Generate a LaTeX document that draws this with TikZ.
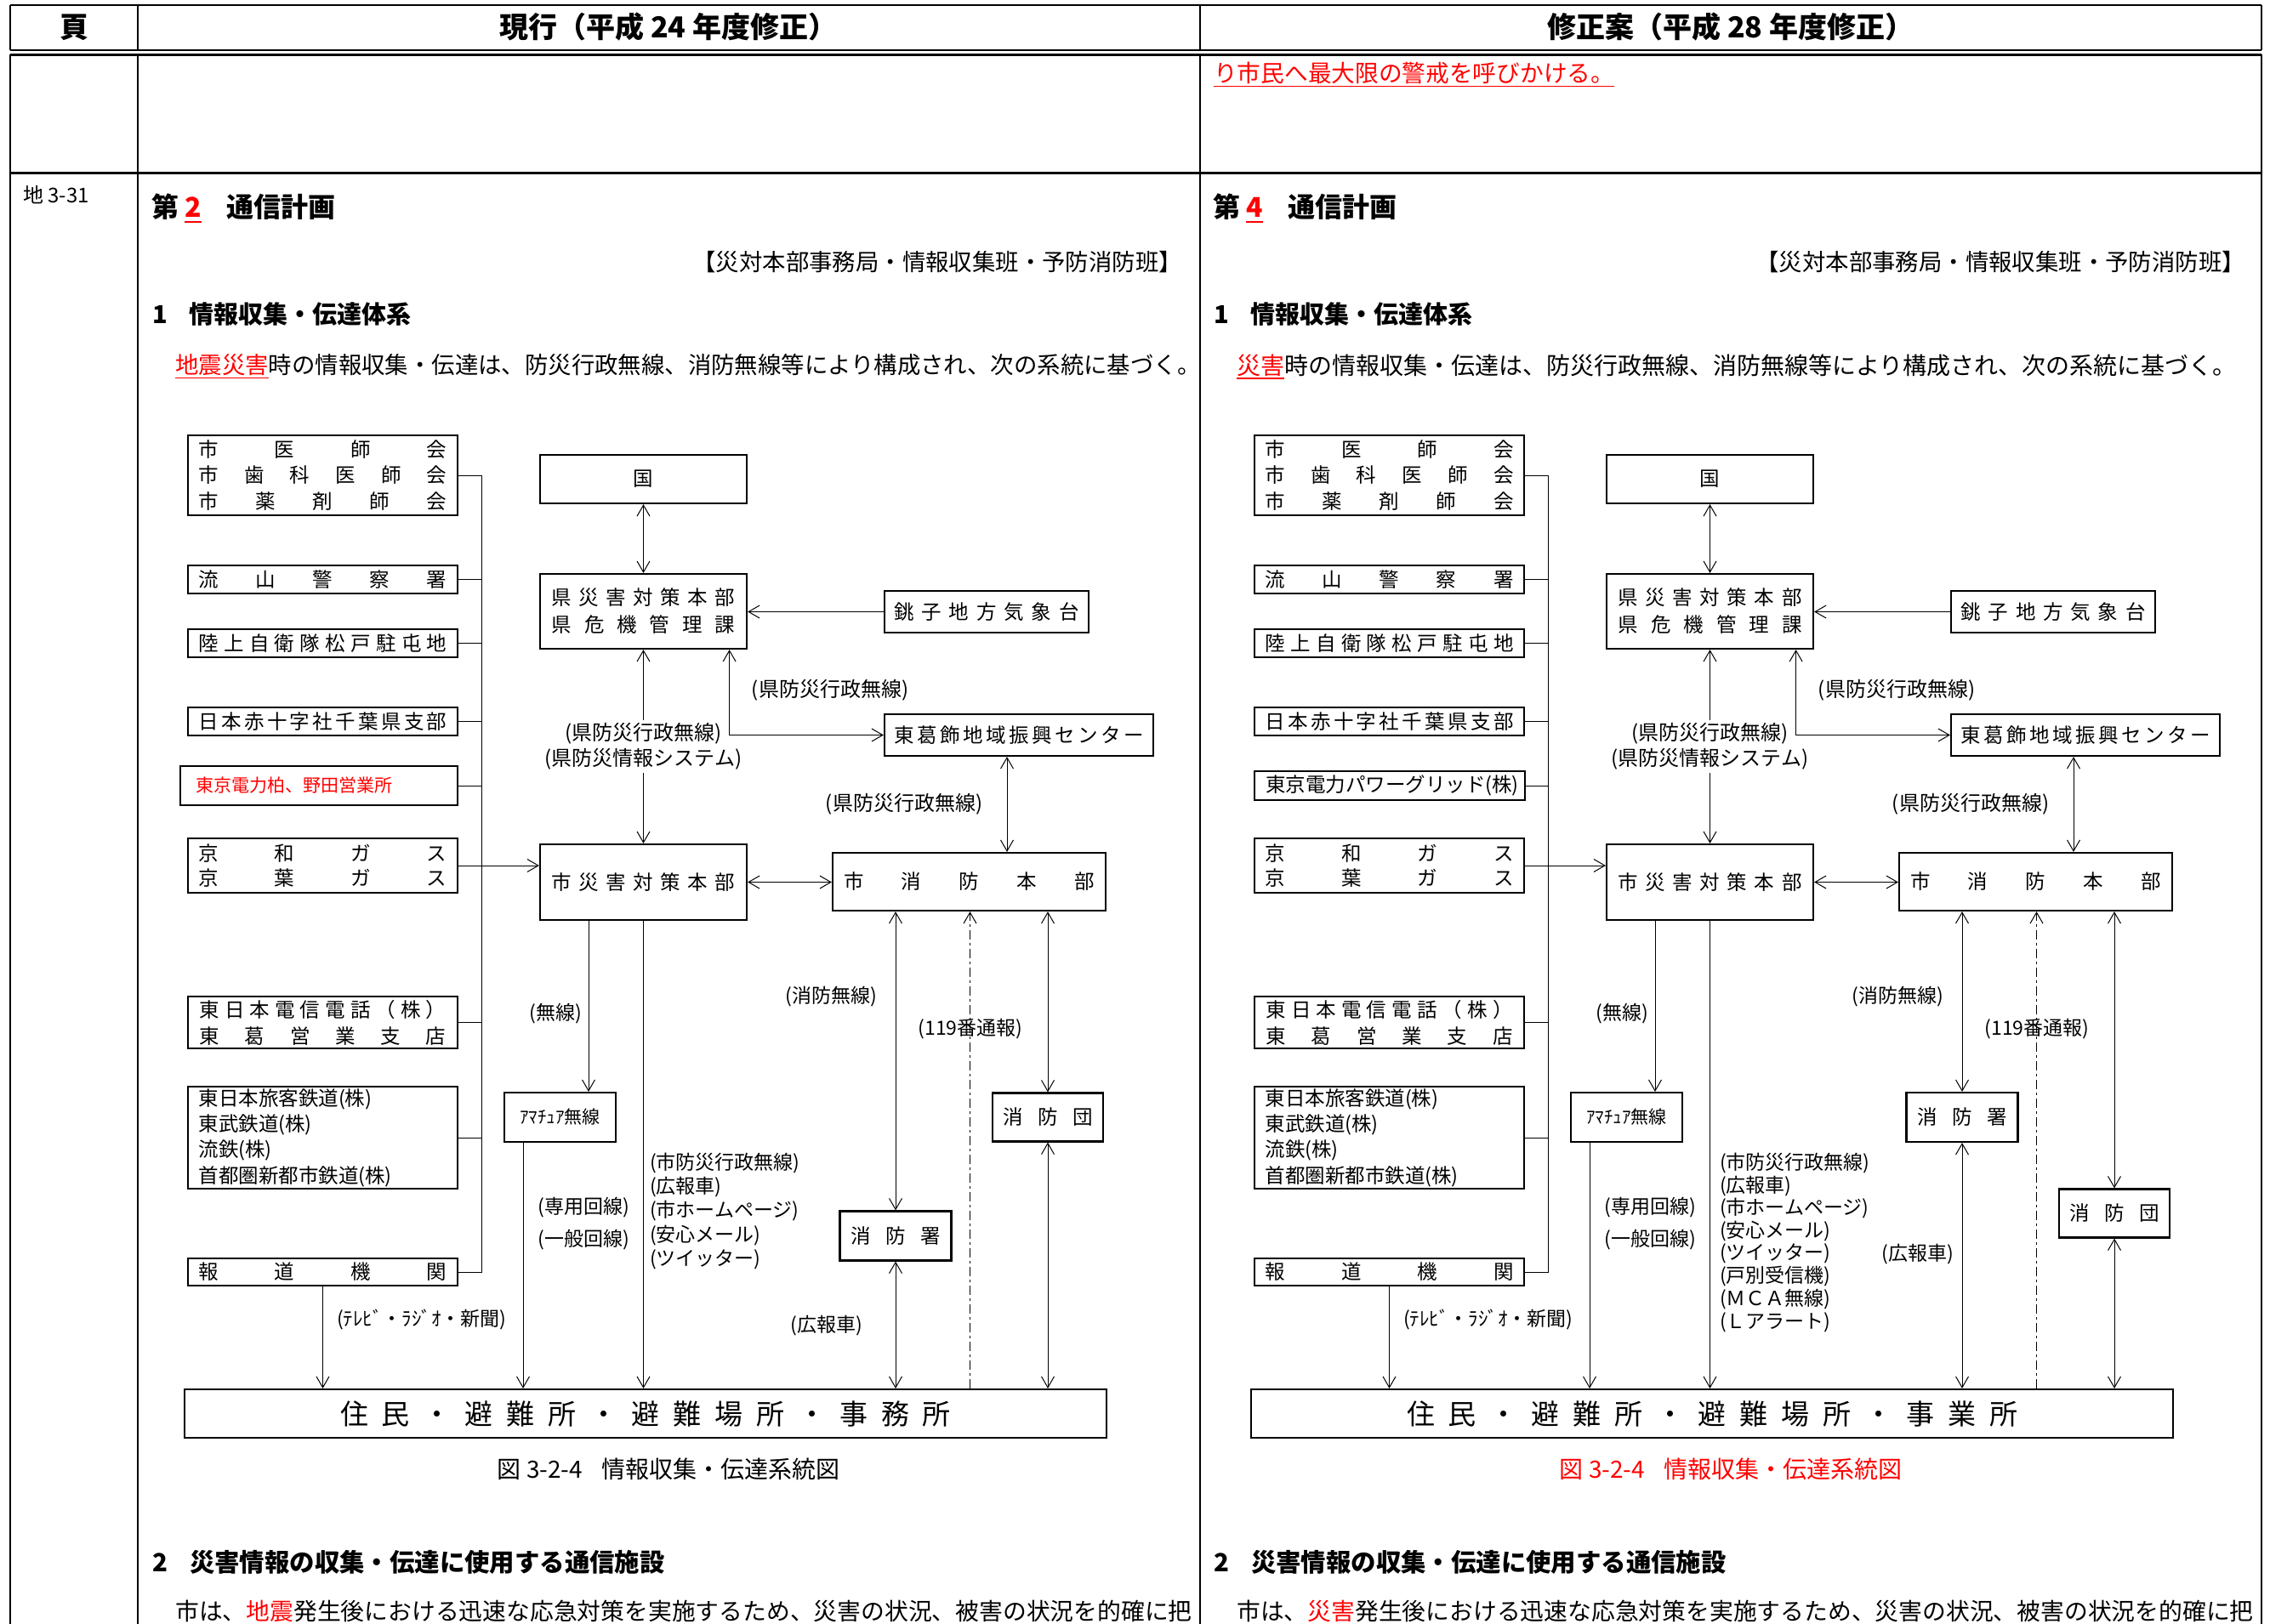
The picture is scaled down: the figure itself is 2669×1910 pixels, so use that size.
\documentclass[tikz,border=0pt]{standalone}
\usepackage{fontspec}
\setmainfont{Noto Sans CJK JP}
\usetikzlibrary{arrows.meta}

\newcommand\fsz[2]{\fontsize{#1pt}{#2pt}\selectfont}
\newsavebox\ulbox
\newcommand\uln[1]{\sbox\ulbox{#1}\rlap{\rule[-0.2em]{\wd\ulbox}{1.6pt}}\usebox\ulbox}
\def\sprend{}
\def\sprfirst#1{\ifx#1\sprend\else#1\expandafter\sprnext\fi}
\def\sprnext#1{\ifx#1\sprend\else\hfill#1\expandafter\sprnext\fi}
\newcommand\spreadto[2]{\hbox to #1pt{\sprfirst#2\sprend}}

\tikzset{
  bx/.style={draw, line width=2.2pt, inner sep=0pt, align=left, font=\fsz{23.5}{30}},
  conn/.style={line width=1pt},
  lab/.style={inner sep=0pt, font=\fsz{23}{30}},
  klab/.style={inner sep=0pt, font=\fsz{24}{30}},
  tline/.style={line width=2.6pt},
  body/.style={inner sep=0pt, anchor=west, font=\fsz{27.4}{30}},
  >={Straight Barb[length=13pt,width=15pt]},
  dashdot/.style={line width=1pt, dash pattern=on 11pt off 4pt on 3pt off 4pt},
}

% #1 text of the bottom box, #2 y of 消防署, #3 y of 消防団
\newcommand\commonpart[3]{%
  \node[bx, minimum width=317pt, minimum height=94pt, font=\fsz{23.5}{30.5}] (L1) at (379.5,559)
    {\spreadto{292}{市医師会}\\\spreadto{292}{市歯科医師会}\\\spreadto{292}{市薬剤師会}};
  \node[bx, minimum width=317pt, minimum height=33pt] (L2) at (379.5,681.5) {\spreadto{292}{流山警察署}};
  \node[bx, minimum width=317pt, minimum height=33pt] (L3) at (379.5,756.5) {\spreadto{292}{陸上自衛隊松戸駐屯地}};
  \node[bx, minimum width=317pt, minimum height=33pt] (L4) at (379.5,848.5) {\spreadto{292}{日本赤十字社千葉県支部}};
  \node[bx, minimum width=317pt, minimum height=64pt, font=\fsz{23.5}{29}] (L6) at (379.5,1018)
    {\spreadto{292}{京和ガス}\\\spreadto{292}{京葉ガス}};
  \node[bx, minimum width=317pt, minimum height=61pt, font=\fsz{23.5}{31}] (L7) at (379.5,1202.5)
    {\spreadto{290}{東日本電信電話（株）}\\\spreadto{290}{東葛営業支店}};
  \node[bx, minimum width=317pt, minimum height=120pt, font=\fsz{23.5}{30.3}] (L8) at (379.5,1338)
    {\hbox to 292pt{東日本旅客鉄道(株)\hfill}\\\hbox to 292pt{東武鉄道(株)\hfill}\\\hbox to 292pt{流鉄(株)\hfill}\\\hbox to 292pt{首都圏新都市鉄道(株)\hfill}};
  \node[bx, minimum width=317pt, minimum height=32pt] (L9) at (379.5,1496) {\spreadto{292}{報道機関}};
  \node[bx, minimum width=243pt, minimum height=57pt] (kuni) at (756.5,563.5) {国};
  \node[bx, minimum width=243pt, minimum height=88pt, font=\fsz{23.5}{32}] (ken) at (756.5,719)
    {\spreadto{216}{県災害対策本部}\\\spreadto{216}{県危機管理課}};
  \node[bx, minimum width=243pt, minimum height=89pt] (shi) at (756.5,1037.5) {\spreadto{216}{市災害対策本部}};
  \node[bx, minimum width=240pt, minimum height=49pt] (choshi) at (1160,719.5) {\spreadto{217}{銚子地方気象台}};
  \node[bx, minimum width=316pt, minimum height=49pt] (toka) at (1198,864.5) {\spreadto{293}{東葛飾地域振興センター}};
  \node[bx, minimum width=321pt, minimum height=68pt] (fhq) at (1139.5,1037) {\spreadto{295}{市消防本部}};
  \node[bx, minimum width=131pt, minimum height=58pt, font=\fsz{21}{24}] (ama) at (658.5,1314) {ｱﾏﾁｭｱ無線};
  \node[bx, minimum width=131pt, minimum height=58pt] (sho) at (1053,#2) {\spreadto{105}{消防署}};
  \node[bx, minimum width=130pt, minimum height=57pt] (dan) at (1232,#3) {\spreadto{105}{消防団}};
  \node[bx, minimum width=1084pt, minimum height=57pt, font=\fsz{33}{36}] (jumin) at (759,1662.5) {\spreadto{718}{#1}};
  % bus
  \coordinate (bustop) at (566,559);
  \draw[conn] (L1.east) -- (bustop) -- (bustop |- L9.east) -- (L9.east);
  \foreach \b in {L2,L3,L4,L7,L8} \draw[conn] (\b.east) -- (\b.east -| bustop);
  \draw[conn,->] (L6.east) -- (L6.east -| shi.west);
  % centre
  \draw[conn,<->] (kuni.south) -- (ken.north);
  \draw[conn,<->] (ken.south) -- node[klab, fill=white, align=center, inner ysep=4pt] (kenlab)
     {(県防災行政無線)\\(県防災情報システム)} (shi.north);
  \draw[conn,->] (choshi.west) -- (choshi.west -| ken.east);
  \draw[conn,<->] ([xshift=-21.5pt]ken.south east) |- (toka.west);
  \draw[conn,<->] ([xshift=-14pt]toka.south) -- ([xshift=-14pt]toka.south |- fhq.north);
  \draw[conn,<->] (shi.east) -- (shi.east -| fhq.west);
  \draw[conn,->] ([xshift=-64.5pt]shi.south) -- ([xshift=-64.5pt]shi.south |- ama.north);
  \draw[conn,->] ([xshift=-43.5pt]ama.south) -- ([xshift=-43.5pt]ama.south |- jumin.north);
  \draw[conn,->] (shi.south) -- (shi.south |- jumin.north);
  \draw[conn,->] (L9.south) -- (L9.south |- jumin.north);
  \draw[conn,<->] (sho.north |- fhq.south) -- (sho.north);
  \draw[conn,<->] (sho.south) -- (sho.south |- jumin.north);
  \draw[dashdot,->] ([xshift=1pt]fhq.south |- jumin.north) -- ([xshift=1pt]fhq.south);
  \draw[conn,<->] (dan.north |- fhq.south) -- (dan.north);
  \draw[conn,<->] (dan.south) -- (dan.south |- jumin.north);
  % labels
  \node[klab] (lbA) at (976,812) {(県防災行政無線)};
  \node[klab] (lbB) at (1063,946) {(県防災行政無線)};
  \node[lab] (lbC) at (653,1192) {(無線)};
  \node[lab] (lbD) at (686,1420) {(専用回線)};
  \node[lab] (lbE) at (686,1458) {(一般回線)};
  \node[lab, anchor=west] (lbF) at (396,1552) {(ﾃﾚﾋﾞ・ﾗｼﾞｵ・新聞)};
  \node[lab] (lbG) at (977,1172) {(消防無線)};
  \node[lab] (lbH) at (1141,1210) {(119番通報)};
}

\begin{document}
\begin{tikzpicture}[x=1pt,y=-1pt]
\useasboundingbox (0,0) rectangle (2669,1910);

% table
\draw[tline] (12,6) -- (2659,6);
\draw[tline] (12,59) -- (2659,59);
\draw[tline] (12,64.5) -- (2659,64.5);
\draw[tline] (12,203.5) -- (2659,203.5);
\foreach \x in {12,162,1411,2659} {
  \draw[tline] (\x,6) -- (\x,59);
  \draw[tline] (\x,64.5) -- (\x,1915);
}

% header
\node[inner sep=0pt, font=\fsz{34}{36}\bfseries] (h0) at (87,32) {頁};
\node[inner sep=0pt, font=\fsz{34}{36}\bfseries] (h1) at (786,32) {現行（平成 24 年度修正）};
\node[inner sep=0pt, font=\fsz{34}{36}\bfseries] (h2) at (2035,32) {修正案（平成 28 年度修正）};

% row 2
\node[body, font=\fsz{27.7}{30}] (r2) at (1427,88) {\textcolor{red}{\uln{り市民へ最大限の警戒を呼びかける。}}};

% row 3 left
\node[body, font=\fsz{24}{28}] (pg) at (27,229) {地 3-31};
\node[body, font=\fsz{32}{34}\bfseries] (tA) at (178,245) {第\hspace{7pt}\textcolor{red}{\uln{2}}\hspace{30pt}通信計画};
\node[body, anchor=east] (bA) at (1390,308) {【災対本部事務局・情報収集班・予防消防班】};
\node[body, font=\fsz{29}{32}\bfseries] (sA) at (179,369) {1\hspace{26pt}情報収集・伝達体系};
\node[body] (pA) at (206,431) {\textcolor{red}{\uln{地震災害}}時の情報収集・伝達は、防災行政無線、消防無線等により構成され、次の系統に基づく。};
\node[body, anchor=center, font=\fsz{28}{30}] (cA) at (786,1728) {図 3-2-4\hspace{22pt}情報収集・伝達系統図};
\node[body, font=\fsz{29.4}{32}\bfseries] (s2A) at (179,1837) {2\hspace{26pt}災害情報の収集・伝達に使用する通信施設};
\node[body, font=\fsz{27.8}{30}] (qA) at (206,1895) {市は、\textcolor{red}{地震}発生後における迅速な応急対策を実施するため、災害の状況、被害の状況を的確に把};

% row 3 right
\node[body, font=\fsz{32}{34}\bfseries] (tB) at (1426,245) {第\hspace{7pt}\textcolor{red}{\uln{4}}\hspace{30pt}通信計画};
\node[body, anchor=east] (bB) at (2640,308) {【災対本部事務局・情報収集班・予防消防班】};
\node[body, font=\fsz{29}{32}\bfseries] (sB) at (1427,369) {1\hspace{26pt}情報収集・伝達体系};
\node[body, font=\fsz{28}{30}] (pB) at (1454,431) {\textcolor{red}{\uln{災害}}時の情報収集・伝達は、防災行政無線、消防無線等により構成され、次の系統に基づく。};
\node[body, anchor=center, font=\fsz{28}{30}] (cB) at (2035,1728) {\textcolor{red}{図 3-2-4\hspace{22pt}情報収集・伝達系統図}};
\node[body, font=\fsz{29.4}{32}\bfseries] (s2B) at (1427,1837) {2\hspace{26pt}災害情報の収集・伝達に使用する通信施設};
\node[body, font=\fsz{27.8}{30}] (qB) at (1454,1895) {市は、\textcolor{red}{災害}発生後における迅速な応急対策を実施するため、災害の状況、被害の状況を的確に把};

% left diagram
\begin{scope}[name prefix=A-]
  \commonpart{住民・避難所・避難場所・事務所}{1453.5}{1314}
  \node[bx, minimum width=326pt, minimum height=46pt] (L5) at (375,924)
    {\hbox to 290pt{\textcolor{red}{\fsz{21}{24}東京電力柏、野田営業所}\hfill}};
  \draw[conn] (L5.east) -- (L5.east -| bustop);
  \foreach \t [count=\i] in {(市防災行政無線),(広報車),(市ホームページ),(安心メール),(ツイッター)}
    \node[lab, anchor=west] (li\i) at (764,{1368+28.25*(\i-1)}) {\t};
  \node[lab] (koho) at (972,1559) {(広報車)};
\end{scope}

% right diagram
\begin{scope}[xshift=1254pt, name prefix=B-]
  \commonpart{住民・避難所・避難場所・事業所}{1314}{1427}
  \node[bx, minimum width=318pt, minimum height=34pt] (L5) at (380,924)
    {\hbox to 292pt{東京電力パワーグリッド(株)\hfill}};
  \draw[conn] (L5.east) -- (L5.east -| bustop);
  \foreach \t [count=\i] in {(市防災行政無線),(広報車),(市ホームページ),(安心メール),(ツイッター),(戸別受信機),(ＭＣＡ無線),(Ｌアラート)}
    \node[lab, anchor=west] (li\i) at (768,{1368+26.7*(\i-1)}) {\t};
  \node[lab] (koho) at (1001,1475) {(広報車)};
\end{scope}
\end{tikzpicture}
\end{document}
